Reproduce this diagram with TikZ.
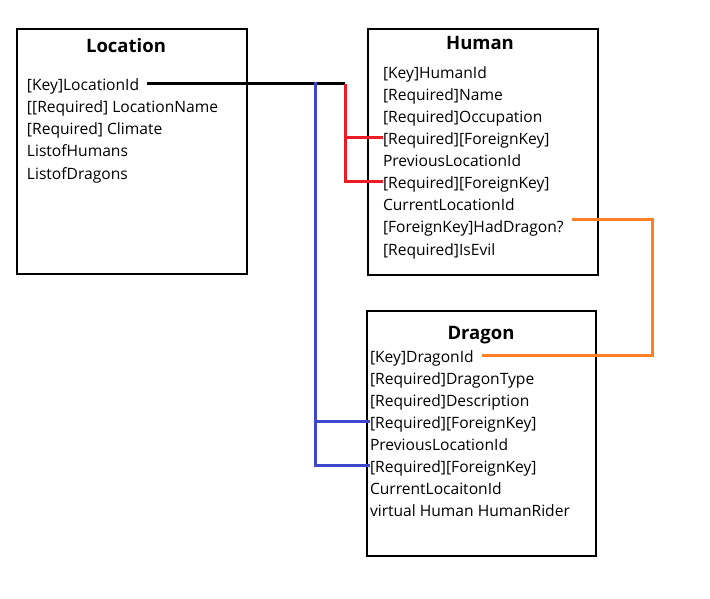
\documentclass[tikz,border=0pt]{standalone}
\usepackage{fontspec}
\setmainfont{Open Sans}
\usetikzlibrary{positioning}
\definecolor{fkred}{RGB}{237,28,36}
\definecolor{fkblue}{RGB}{63,72,204}
\definecolor{fkorange}{RGB}{255,127,39}

\begin{document}
\begin{tikzpicture}[
        % ----- global styles -----
        x=1pt, y=-1pt,
        node distance=0pt,
        % entity box
        entity/.style={draw, line width=2.2pt, minimum width=230pt, minimum height=245pt, inner sep=0pt},
        title/.style={font=\fontsize{18.5}{20}\selectfont\bfseries, anchor=base, inner sep=0pt},
        row/.style={font=\fontsize{15.6}{22}\selectfont, inner sep=0pt, outer sep=0pt, text height=18pt, text depth=4pt, anchor=north west},
        link/.style={line width=3pt},
        keylink/.style={link, black},
        redlink/.style={link, fkred},
        bluelink/.style={link, fkblue},
        orangelink/.style={link, fkorange}
    ]
    \useasboundingbox (0,0) rectangle (710,599);

    % ----- Location -----
    \node[entity] (location) at (132,151.5) {};
    \node[title] (loctitle) at (126,53) {Location};
    \node[row, anchor=base west] (locid) at (27,91) {[Key]LocationId};
    \node[row, below right=of locid.south west] (locname) {[[Required] LocationName};
    \node[row, below right=of locname.south west] (climate) {[Required] Climate};
    \node[row, below right=of climate.south west] (lhumans) {ListofHumans};
    \node[row, below right=of lhumans.south west] (ldragons) {ListofDragons};

    % ----- Human -----
    \node[entity, minimum height=246pt] (human) at (483,152) {};
    \node[title] (humtitle) at (480,50) {Human};
    \node[row, anchor=base west] (hid) at (383,79) {[Key]HumanId};
    \node[row, below right=of hid.south west] (hname) {[Required]Name};
    \node[row, below right=of hname.south west] (hocc) {[Required]Occupation};
    \node[row, below right=of hocc.south west] (hfk1) {[Required][ForeignKey]};
    \node[row, below right=of hfk1.south west] (hprev) {PreviousLocationId};
    \node[row, below right=of hprev.south west] (hfk2) {[Required][ForeignKey]};
    \node[row, below right=of hfk2.south west] (hcur) {CurrentLocationId};
    \node[row, below right=of hcur.south west] (hdrag) {[ForeignKey]HadDragon?};
    \node[row, below right=of hdrag.south west] (hevil) {[Required]IsEvil};

    % ----- Dragon -----
    \node[entity, minimum width=229pt] (dragon) at (481.5,433.5) {};
    \node[title] (dragtitle) at (481,339) {Dragon};
    \node[row, anchor=base west] (did) at (370,362) {[Key]DragonId};
    \node[row, below right=of did.south west] (dtype) {[Required]DragonType};
    \node[row, below right=of dtype.south west] (ddesc) {[Required]Description};
    \node[row, below right=of ddesc.south west] (dfk1) {[Required][ForeignKey]};
    \node[row, below right=of dfk1.south west] (dprev) {PreviousLocationId};
    \node[row, below right=of dprev.south west] (dfk2) {[Required][ForeignKey]};
    \node[row, below right=of dfk2.south west] (dcur) {CurrentLocaitonId};
    \node[row, below right=of dcur.south west] (drider) {virtual Human HumanRider};

    % ----- junctions -----
    \coordinate (keyjoin) at (345,84);
    \coordinate (bluetop) at (315,82);
    \coordinate (dragjoin) at (652,220);

    % ----- links -----
    \draw[keylink, shorten <=8pt] (locid.east) -- (keyjoin);
    \draw[redlink] (hfk1.west) -| (keyjoin);
    \draw[redlink] (hfk2.west) -| (keyjoin);
    \draw[bluelink] (dfk1.west) -| (bluetop);
    \draw[bluelink] (dfk2.west) -| (bluetop);
    \draw[orangelink] ([shift={(8,-7)}]hdrag.east) -| (dragjoin) |- ([xshift=8pt]did.east);
\end{tikzpicture}
\end{document}
